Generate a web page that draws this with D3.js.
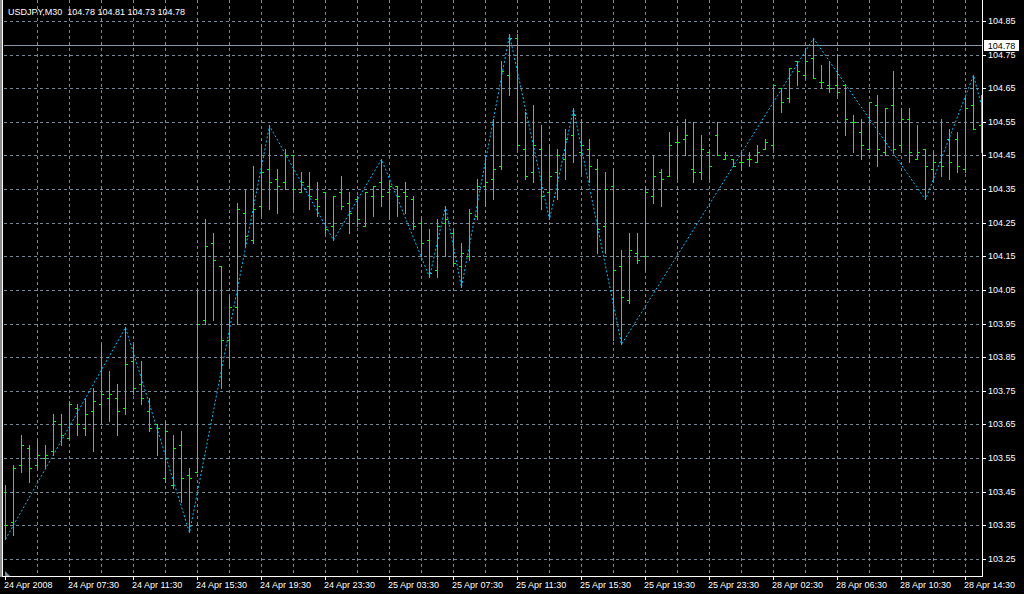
<!DOCTYPE html>
<html><head><meta charset="utf-8">
<script src="https://cdn.jsdelivr.net/npm/d3@7"></script>
<style>
html,body{margin:0;padding:0;background:#000;overflow:hidden}
svg{display:block}
text{font-family:"Liberation Sans",Arial,sans-serif;font-size:9px;fill:#fff}
</style>
</head><body>
<svg id="c" width="1024" height="594"></svg>
<script>
const symbolTitle = "USDJPY,M30";
const titleValues = ["104.78", "104.81", "104.73", "104.78"];
const bidPrice = 104.78;
const timeLabelIndex = [0, 8, 16, 24, 32, 40, 48, 56, 64, 72, 80, 88, 96, 104, 112, 120];
const timeLabels = ["24 Apr 2008", "24 Apr 07:30", "24 Apr 11:30", "24 Apr 15:30", "24 Apr 19:30",
  "24 Apr 23:30", "25 Apr 03:30", "25 Apr 07:30", "25 Apr 11:30", "25 Apr 15:30", "25 Apr 19:30",
  "25 Apr 23:30", "28 Apr 02:30", "28 Apr 06:30", "28 Apr 10:30", "28 Apr 14:30"];
const priceTicks = [103.25, 103.35, 103.45, 103.55, 103.65, 103.75, 103.85, 103.95, 104.05,
  104.15, 104.25, 104.35, 104.45, 104.55, 104.65, 104.75, 104.85];
const gridIndex = [4,8,12,16,20,24,28,32,36,40,44,48,52,56,60,64,68,72,76,80,84,88,92,96,100,104,108,112,116,120];

const openP = [103.45,103.36,103.53,103.58,103.53,103.55,103.57,103.65,103.61,103.70,
  103.64,103.69,103.71,103.73,103.73,103.70,103.84,103.77,103.69,103.65,
  103.49,103.47,103.59,103.50,103.51,103.96,104.19,104.12,103.90,104.00,
  104.28,104.20,104.30,104.41,104.38,104.37,104.45,104.34,104.36,104.32,
  104.34,104.24,104.34,104.31,104.32,104.24,104.33,104.37,104.34,104.36,
  104.34,104.32,104.25,104.20,104.11,104.25,104.22,104.12,104.15,104.27,
  104.36,104.38,104.42,104.69,104.80,104.47,104.40,104.47,104.34,104.40,
  104.44,104.51,104.46,104.47,104.41,104.24,104.36,104.12,104.02,104.16,
  104.15,104.33,104.40,104.39,104.49,104.50,104.41,104.40,104.46,104.51,
  104.44,104.44,104.43,104.44,104.43,104.47,104.48,104.65,104.62,104.73,
  104.69,104.74,104.67,104.66,104.66,104.66,104.55,104.52,104.47,104.60,
  104.46,104.60,104.48,104.56,104.44,104.47,104.41,104.43,104.50,104.50,
  104.41,104.60,104.54];
const highP = [103.47,103.53,103.62,103.59,103.60,103.59,103.68,103.68,103.72,103.71,
  103.73,103.76,103.89,103.81,103.77,103.94,103.89,103.84,103.73,103.65,
  103.66,103.62,103.63,103.52,104.05,104.26,104.22,104.12,104.03,104.31,
  104.35,104.42,104.48,104.54,104.41,104.47,104.45,104.40,104.40,104.37,
  104.34,104.33,104.39,104.34,104.33,104.34,104.36,104.44,104.37,104.36,
  104.37,104.33,104.26,104.23,104.26,104.30,104.23,104.19,104.29,104.38,
  104.44,104.56,104.73,104.81,104.81,104.58,104.60,104.54,104.48,104.47,
  104.53,104.59,104.56,104.50,104.44,104.40,104.41,104.17,104.22,104.22,
  104.36,104.45,104.41,104.52,104.53,104.56,104.55,104.51,104.47,104.55,
  104.46,104.44,104.46,104.46,104.48,104.50,104.66,104.65,104.71,104.73,
  104.77,104.80,104.72,104.73,104.75,104.66,104.57,104.56,104.61,104.63,
  104.59,104.70,104.59,104.59,104.54,104.47,104.46,104.56,104.53,104.52,
  104.62,104.69,104.63];
const lowP = [103.31,103.32,103.51,103.48,103.52,103.52,103.56,103.59,103.61,103.62,
  103.62,103.57,103.65,103.66,103.62,103.68,103.74,103.71,103.63,103.56,
  103.48,103.46,103.42,103.33,103.51,103.95,103.96,103.76,103.82,103.95,
  104.18,104.19,104.27,104.29,104.28,104.35,104.29,104.34,104.29,104.27,
  104.22,104.20,104.29,104.22,104.24,104.24,104.27,104.30,104.26,104.27,
  104.28,104.23,104.15,104.09,104.09,104.15,104.12,104.06,104.14,104.26,
  104.30,104.32,104.41,104.63,104.47,104.38,104.37,104.29,104.26,104.32,
  104.38,104.43,104.39,104.37,104.16,104.16,103.90,103.89,104.01,104.13,
  104.11,104.31,104.30,104.39,104.38,104.45,104.37,104.38,104.38,104.45,
  104.44,104.42,104.41,104.42,104.43,104.47,104.47,104.58,104.61,104.66,
  104.68,104.68,104.65,104.64,104.63,104.51,104.46,104.44,104.47,104.42,
  104.45,104.46,104.47,104.43,104.44,104.32,104.38,104.39,104.38,104.40,
  104.40,104.53,104.46];
const closeP = [103.35,103.52,103.59,103.52,103.56,103.56,103.66,103.62,103.71,103.65,
  103.68,103.72,103.74,103.74,103.69,103.83,103.76,103.73,103.64,103.64,
  103.63,103.58,103.49,103.49,103.95,104.18,104.14,103.90,104.00,104.29,
  104.21,104.29,104.40,104.37,104.36,104.45,104.35,104.37,104.33,104.30,
  104.23,104.33,104.30,104.28,104.26,104.34,104.36,104.33,104.36,104.33,
  104.33,104.24,104.19,104.10,104.24,104.26,104.13,104.16,104.28,104.36,
  104.37,104.41,104.70,104.80,104.48,104.39,104.48,104.33,104.39,104.45,
  104.50,104.57,104.48,104.42,104.23,104.35,104.11,104.03,104.17,104.14,
  104.34,104.39,104.38,104.48,104.49,104.51,104.40,104.47,104.42,104.45,
  104.45,104.42,104.43,104.44,104.46,104.49,104.66,104.61,104.71,104.70,
  104.73,104.68,104.67,104.65,104.64,104.56,104.55,104.48,104.61,104.47,
  104.59,104.47,104.56,104.46,104.46,104.42,104.43,104.42,104.43,104.42,
  104.59,104.53,104.58];

const zigzagIndex = [0, 15, 23, 33, 41, 47, 53, 55, 57, 63, 68, 71, 77, 101, 115, 121, 122];
const zigzagPrice = [103.31, 103.94, 103.33, 104.54, 104.20, 104.44, 104.09, 104.30, 104.06,
  104.81, 104.26, 104.59, 103.89, 104.80, 104.32, 104.69, 104.60];

const W = 1024, H = 594;
const plotLeft = 4, plotRight = 982, plotBottom = 576;
const svg = d3.select("#c");
svg.append("rect").attr("width", W).attr("height", H).attr("fill", "#000");

const x = d3.scaleLinear().domain([0, 122]).range([5, 981]);
const y = d3.scaleLinear().domain([103.25, 104.85]).range([559, 21]);
const px = v => Math.round(x(v));
const py = v => Math.round(y(v));

const gridColor = "#778899";
const clip = svg.append("defs").append("clipPath").attr("id", "plot")
  .append("rect").attr("x", plotLeft).attr("y", 0).attr("width", plotRight - plotLeft).attr("height", plotBottom);

const plot = svg.append("g").attr("clip-path", "url(#plot)");

// grid
plot.append("g").selectAll("line.h").data(priceTicks).join("line")
  .attr("x1", plotLeft).attr("x2", plotRight)
  .attr("y1", d => py(d) + 0.5).attr("y2", d => py(d) + 0.5)
  .attr("stroke", gridColor).attr("stroke-dasharray", "3,3").attr("shape-rendering", "crispEdges");
plot.append("g").selectAll("line.v").data(gridIndex).join("line")
  .attr("y1", 0).attr("y2", plotBottom)
  .attr("x1", d => px(d) + 0.5).attr("x2", d => px(d) + 0.5)
  .attr("stroke", gridColor).attr("stroke-dasharray", "3,3").attr("shape-rendering", "crispEdges");

// bid line
plot.append("line").attr("x1", plotLeft).attr("x2", plotRight)
  .attr("y1", py(bidPrice) + 0.5).attr("y2", py(bidPrice) + 0.5)
  .attr("stroke", "#8a96a3").attr("shape-rendering", "crispEdges");

// bars
const idx = d3.range(openP.length);
const barColor = "#00ff00";
const bars = plot.append("g").attr("fill", barColor).attr("shape-rendering", "crispEdges");
bars.selectAll("rect.hl").data(idx).join("rect")
  .attr("x", i => px(i)).attr("width", 1)
  .attr("y", i => py(highP[i])).attr("height", i => py(lowP[i]) - py(highP[i]) + 1);
bars.selectAll("rect.o").data(idx).join("rect")
  .attr("x", i => px(i) - 2).attr("width", 2)
  .attr("y", i => py(openP[i])).attr("height", 1);
bars.selectAll("rect.c").data(idx).join("rect")
  .attr("x", i => px(i) + 1).attr("width", 2)
  .attr("y", i => py(closeP[i])).attr("height", 1);

// zigzag
const zz = zigzagIndex.map((d, k) => [d, zigzagPrice[k]]);
plot.append("path").datum(zz)
  .attr("d", d3.line().x(d => x(d[0]) + 0.5).y(d => y(d[1]) + 0.5))
  .attr("fill", "none").attr("stroke", "#00bfff").attr("stroke-width", 1)
  .attr("stroke-dasharray", "2,2");

// frame
svg.append("rect").attr("x", 0).attr("y", 0).attr("width", 2).attr("height", plotBottom + 1).attr("fill", "#8c8c8c");
const frame = svg.append("g").attr("stroke", "#fff").attr("shape-rendering", "crispEdges");
frame.append("line").attr("x1", 2.5).attr("x2", 2.5).attr("y1", 0).attr("y2", plotBottom + 1);
frame.append("line").attr("x1", 2).attr("x2", plotRight + 1).attr("y1", plotBottom + 0.5).attr("y2", plotBottom + 0.5);
frame.append("line").attr("x1", plotRight + 0.5).attr("x2", plotRight + 0.5).attr("y1", 0).attr("y2", plotBottom + 1);

// small shift marker
svg.append("path").attr("d", "M5,571 L5,576 L10,576 Z").attr("fill", gridColor);

// y axis
const yAxis = d3.axisRight(y).tickValues(priceTicks).tickFormat(d3.format(".2f"))
  .tickSize(4).tickSizeOuter(0).tickPadding(2);
const gy = svg.append("g").attr("transform", `translate(${plotRight},0)`).call(yAxis);
gy.select(".domain").remove();
gy.selectAll(".tick").attr("transform", d => `translate(0,${py(d) + 0.5})`);
gy.selectAll(".tick line").attr("stroke", "#fff").attr("x1", 0).attr("shape-rendering", "crispEdges");
gy.selectAll(".tick text").attr("fill", "#fff").style("font-size", "9px").style("font-family", '"Liberation Sans",Arial,sans-serif');

// x axis
const xAxis = d3.axisBottom(x).tickValues(timeLabelIndex)
  .tickFormat((d, k) => timeLabels[k]).tickSize(4).tickSizeOuter(0).tickPadding(2);
const gx = svg.append("g").attr("transform", `translate(0,${plotBottom})`).call(xAxis);
gx.select(".domain").remove();
gx.selectAll(".tick").attr("transform", d => `translate(${px(d) + 0.5},0)`);
gx.selectAll(".tick line").attr("stroke", "#fff").attr("shape-rendering", "crispEdges");
gx.selectAll(".tick text").attr("fill", "#fff").attr("text-anchor", "start").attr("x", -1.5)
  .style("font-size", "9px").style("font-family", '"Liberation Sans",Arial,sans-serif');

// bid label
const by = py(bidPrice);
svg.append("rect").attr("x", 984).attr("y", by - 5).attr("width", 35).attr("height", 11).attr("fill", "#fff");
svg.append("text").attr("x", 1001.5).attr("y", by + 4).attr("text-anchor", "middle")
  .style("fill", "#000").text(d3.format(".2f")(bidPrice));

// title
svg.append("text").attr("x", 8).attr("y", 15).attr("xml:space", "preserve").style("white-space", "pre")
  .text(symbolTitle + "  " + titleValues.join(" "));
</script>
</body></html>
